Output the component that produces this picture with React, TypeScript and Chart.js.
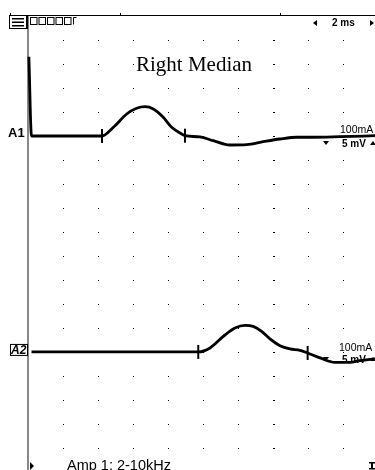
import React, { useEffect, useRef } from "react";
import { Chart, registerables } from "chart.js";

Chart.register(...registerables);

// Trace A1 (time in ms, amplitude in mV)
const TIME_A1 = [0.05, 0.2, 4.23, 4.88, 5.64, 6.21, 6.69, 7.16, 7.73, 8.21, 8.78, 8.97, 9.83, 10.59, 11.54, 12.5, 13.45, 14.4, 15.35, 16.3, 17.83, 19.83];
const MV_A1 = [16.5, 0, 0, 1.81, 4.58, 5.77, 6.1, 5.63, 3.9, 1.81, 0.42, 0.06, -0.2, -0.98, -1.88, -1.81, -1.19, -0.63, -0.27, -0.27, -0.15, 0.06];
// Trace A2
const TIME_A2 = [0.2, 9.73, 10.4, 11.16, 11.83, 12.4, 12.87, 13.35, 13.83, 14.4, 14.97, 15.54, 15.98, 16.69, 17.54, 18.4, 18.97, 19.83];
const MV_A2 = [0, 0, 0.83, 3.25, 5.0, 5.54, 5.33, 4.29, 2.71, 1.31, 0.63, 0.33, -0.21, -1.25, -2.17, -2.17, -1.81, -1.46];
// Cursor marks (ms)
const CURSORS_A1 = [4.23, 8.97];
const CURSORS_A2 = [9.73, 15.98];
// Display settings
const MS_PER_DIV = 2;
const MV_PER_DIV = 5;
const A1_BASE_DIV = -5;
const A2_BASE_DIV = -14;
const X_MAX = 19.83;
const Y_MIN = -18.92;
const TITLE = "Right Median";
const FOOTER = "Amp 1: 2-10kHz";

function valueAt(times: number[], mv: number[], t: number) {
  for (let i = 0; i < times.length - 1; i++) {
    if (t >= times[i] && t <= times[i + 1]) {
      const f = (t - times[i]) / (times[i + 1] - times[i]);
      return mv[i] + f * (mv[i + 1] - mv[i]);
    }
  }
  return 0;
}

const overlay = {
  id: "emgOverlay",
  beforeDatasetsDraw(chart: any) {
    const ctx = chart.ctx;
    const xs = chart.scales.x;
    const ys = chart.scales.y;
    ctx.save();
    // grid dots
    for (let t = MS_PER_DIV; t < X_MAX; t += MS_PER_DIV) {
      const px = Math.round(xs.getPixelForValue(t));
      for (let d = -1; d > Y_MIN; d--) {
        const py = Math.round(ys.getPixelForValue(d));
        ctx.fillStyle = "#000";
        const big = Math.abs(t - 14) < 0.01;
        ctx.fillRect(px, py, big ? 2 : 1, 1);
      }
    }
    // left gray axis
    ctx.fillStyle = "#888";
    ctx.fillRect(xs.left - 1, 15, 2, 455);
    // top line
    ctx.fillStyle = "#000";
    ctx.fillRect(10, 15, 365, 1);
    ctx.fillRect(10, 13, 1, 2);
    ctx.fillRect(120, 13, 1, 2);
    ctx.fillRect(280, 13, 1, 2);
    ctx.restore();
  },
  afterDraw(chart: any) {
    const ctx = chart.ctx;
    const ys = chart.scales.y;
    ctx.save();
    // menu icon
    ctx.fillStyle = "#fff";
    ctx.fillRect(9, 15, 18, 14);
    ctx.strokeStyle = "#000";
    ctx.lineWidth = 1;
    ctx.strokeRect(9.5, 15.5, 17, 13);
    ctx.fillStyle = "#000";
    ctx.fillRect(12, 18, 12, 1.5);
    ctx.fillRect(12, 21.5, 12, 1.5);
    ctx.fillRect(12, 25, 12, 1.5);
    ctx.fillRect(26, 15, 2, 14);
    // small boxes
    ctx.lineWidth = 1;
    for (let i = 0; i < 5; i++) {
      ctx.strokeRect(30.5 + i * 8.5, 17.5, 6.5, 7);
    }
    ctx.beginPath();
    ctx.moveTo(76.5, 17.5);
    ctx.lineTo(73.5, 17.5);
    ctx.lineTo(73.5, 24.5);
    ctx.stroke();
    // 2 ms scale
    ctx.font = "bold 10px 'Liberation Sans', Arial, sans-serif";
    ctx.textBaseline = "middle";
    ctx.textAlign = "left";
    ctx.fillText("2 ms", 332, 23);
    ctx.beginPath();
    ctx.moveTo(313, 23); ctx.lineTo(317, 20); ctx.lineTo(317, 26); ctx.closePath(); ctx.fill();
    ctx.beginPath();
    ctx.moveTo(374, 23); ctx.lineTo(370, 20); ctx.lineTo(370, 26); ctx.closePath(); ctx.fill();
    // title
    ctx.font = "21px 'Liberation Serif', 'Times New Roman', serif";
    ctx.textAlign = "left";
    ctx.textBaseline = "alphabetic";
    ctx.fillText(TITLE, 136, 71);
    // channel labels
    const yA1 = ys.getPixelForValue(A1_BASE_DIV);
    const yA2 = ys.getPixelForValue(A2_BASE_DIV);
    ctx.font = "bold 13px 'Liberation Sans', Arial, sans-serif";
    ctx.fillText("A1", 8, yA1 + 1);
    ctx.fillStyle = "#fff";
    ctx.fillRect(10, yA2 - 8, 18, 12);
    ctx.strokeRect(10.5, yA2 - 7.5, 17, 11);
    ctx.fillStyle = "#000";
    ctx.font = "italic bold 12px 'Liberation Sans', Arial, sans-serif";
    ctx.fillText("A2", 11, yA2 + 2);
    // sensitivity labels
    ctx.font = "10.5px 'Liberation Sans', Arial, sans-serif";
    ctx.fillText("100mA", 340, yA1 - 3);
    ctx.fillText("100mA", 339, yA2 - 1);
    ctx.font = "bold 10px 'Liberation Sans', Arial, sans-serif";
    ctx.fillText("5 mV", 342, yA1 + 11);
    ctx.fillText("5 mV", 342, yA2 + 11);
    for (const y of [yA1 + 7, yA2 + 7]) {
      ctx.beginPath();
      ctx.moveTo(323, y - 2); ctx.lineTo(329, y - 2); ctx.lineTo(326, y + 2); ctx.closePath(); ctx.fill();
      ctx.beginPath();
      ctx.moveTo(370, y + 2); ctx.lineTo(376, y + 2); ctx.lineTo(373, y - 2); ctx.closePath(); ctx.fill();
    }
    // footer
    ctx.font = "14.5px 'Liberation Sans', Arial, sans-serif";
    ctx.fillText(FOOTER, 67, 470);
    ctx.beginPath();
    ctx.moveTo(30, 462); ctx.lineTo(34, 466); ctx.lineTo(30, 470); ctx.closePath(); ctx.fill();
    ctx.fillRect(369, 462, 6, 1.5);
    ctx.fillRect(369, 468, 6, 1.5);
    ctx.fillRect(371, 463, 2, 5);
    ctx.restore();
  },
};

export default function App() {
  const ref = useRef<HTMLCanvasElement | null>(null);
  useEffect(() => {
    if (!ref.current) return;
    const toDiv = (base: number) => (v: number) => base + v / MV_PER_DIV;
    const a1 = TIME_A1.map((t, i) => ({ x: t, y: toDiv(A1_BASE_DIV)(MV_A1[i]) }));
    const a2 = TIME_A2.map((t, i) => ({ x: t, y: toDiv(A2_BASE_DIV)(MV_A2[i]) }));
    const c1 = CURSORS_A1.map((t) => ({ x: t, y: toDiv(A1_BASE_DIV)(valueAt(TIME_A1, MV_A1, t)) }));
    const c2 = CURSORS_A2.map((t) => ({ x: t, y: toDiv(A2_BASE_DIV)(valueAt(TIME_A2, MV_A2, t)) }));
    const lineDs = (data: any[]) => ({
      type: "line" as const,
      data,
      borderColor: "#000",
      borderWidth: 2.8,
      pointRadius: 0,
      cubicInterpolationMode: "monotone" as const,
      fill: false,
      clip: false as any,
    });
    const markDs = (data: any[]) => ({
      type: "scatter" as const,
      data,
      pointStyle: "line" as const,
      rotation: 90,
      pointRadius: 7,
      borderColor: "#000",
      backgroundColor: "#000",
      borderWidth: 2,
      clip: false as any,
    });
    const chart = new Chart(ref.current, {
      type: "line",
      data: { datasets: [lineDs(a1), lineDs(a2), markDs(c1), markDs(c2)] as any },
      options: {
        animation: false,
        responsive: false,
        devicePixelRatio: 1,
        layout: { autoPadding: false, padding: { left: 28, right: 0, top: 16, bottom: 0 } },
        plugins: { legend: { display: false }, tooltip: { enabled: false } },
        events: [],
        scales: {
          x: { type: "linear", min: 0, max: X_MAX, display: false },
          y: { type: "linear", min: Y_MIN, max: 0, display: false },
        },
      },
      plugins: [overlay],
    });
    return () => chart.destroy();
  }, []);
  return (
    <div style={{ position: "fixed", left: 0, top: 0, width: 375, height: 470, background: "#fff" }}>
      <canvas ref={ref} width={375} height={470} style={{ display: "block" }} />
    </div>
  );
}
